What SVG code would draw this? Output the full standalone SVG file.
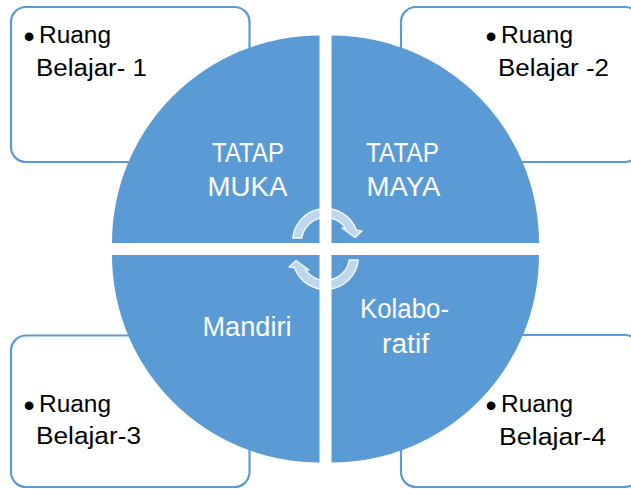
<svg xmlns="http://www.w3.org/2000/svg" width="631" height="489" viewBox="0 0 631 489">
<style>
.box{fill:#ffffff;stroke:#5b9bd5;stroke-width:2.2}
.quad{fill:#5b9bd5;stroke:none}
.lbl{font-family:"Liberation Sans",Arial,sans-serif;font-size:23px;fill:#000000}
.bul{font-size:32px}
.ql{font-family:"Liberation Sans",Arial,sans-serif;font-size:27px;fill:#ffffff}
.arr{fill:#ffffff;fill-opacity:0.6;stroke:#ffffff;stroke-opacity:0.9;stroke-width:1.4;stroke-linejoin:round}
</style>
<rect width="631" height="489" fill="#ffffff"/>
<g id="box1">
<rect class="box" x="11" y="7" width="238.5" height="155" rx="15"/>
<text class="lbl"><tspan class="bul" x="23.5" y="46.5">•</tspan><tspan x="39" y="43" textLength="72" lengthAdjust="spacingAndGlyphs">Ruang</tspan><tspan x="36" y="76" textLength="111" lengthAdjust="spacingAndGlyphs">Belajar- 1</tspan></text>
</g>
<g id="box2">
<rect class="box" x="401" y="7" width="239" height="155" rx="15"/>
<text class="lbl"><tspan class="bul" x="485.5" y="46.5">•</tspan><tspan x="501" y="43" textLength="72" lengthAdjust="spacingAndGlyphs">Ruang</tspan><tspan x="498" y="76" textLength="111" lengthAdjust="spacingAndGlyphs">Belajar -2</tspan></text>
</g>
<g id="box3">
<rect class="box" x="11" y="335.5" width="238.5" height="151.5" rx="15"/>
<text class="lbl"><tspan class="bul" x="23.5" y="415.5">•</tspan><tspan x="39" y="412" textLength="72" lengthAdjust="spacingAndGlyphs">Ruang</tspan><tspan x="36" y="444" textLength="105" lengthAdjust="spacingAndGlyphs">Belajar-3</tspan></text>
</g>
<g id="box4">
<rect class="box" x="401" y="335" width="239" height="152" rx="15"/>
<text class="lbl"><tspan class="bul" x="485.5" y="415.5">•</tspan><tspan x="501" y="412" textLength="72" lengthAdjust="spacingAndGlyphs">Ruang</tspan><tspan x="499" y="445" textLength="107" lengthAdjust="spacingAndGlyphs">Belajar-4</tspan></text>
</g>
<g id="q1">
<path class="quad" d="M319.5 243 L112 243 A207.5 207.5 0 0 1 319.5 35.5 Z"/>
<text class="ql"><tspan x="212" y="162" textLength="72" lengthAdjust="spacingAndGlyphs">TATAP</tspan><tspan x="207.5" y="196" textLength="80" lengthAdjust="spacingAndGlyphs">MUKA</tspan></text>
</g>
<g id="q2">
<path class="quad" d="M331.5 243 L331.5 35.5 A207.5 207.5 0 0 1 539 243 Z"/>
<text class="ql"><tspan x="366" y="162" textLength="73" lengthAdjust="spacingAndGlyphs">TATAP</tspan><tspan x="366.5" y="196" textLength="74" lengthAdjust="spacingAndGlyphs">MAYA</tspan></text>
</g>
<g id="q3">
<path class="quad" d="M319.5 255 L319.5 462.5 A207.5 207.5 0 0 1 112 255 Z"/>
<text class="ql"><tspan x="202.5" y="336" textLength="89" lengthAdjust="spacingAndGlyphs">Mandiri</tspan></text>
</g>
<g id="q4">
<path class="quad" d="M331.5 255 L539 255 A207.5 207.5 0 0 1 331.5 462.5 Z"/>
<text class="ql"><tspan x="360" y="318" textLength="89" lengthAdjust="spacingAndGlyphs">Kolabo-</tspan><tspan x="382" y="353" textLength="47" lengthAdjust="spacingAndGlyphs">ratif</tspan></text>
</g>
<g id="connectors">
<path id="arrowTop" class="arr" d="M292.7 238 A33 33 0 0 1 356.5 230.2 L362 231 L355 237.5 L342 228 L345.7 228.6 A24 24 0 0 0 301.8 238 Z"/>
<path id="arrowBottom" class="arr" transform="rotate(180 325.5 249)" d="M292.7 238 A33 33 0 0 1 356.5 230.2 L362 231 L355 237.5 L342 228 L345.7 228.6 A24 24 0 0 0 301.8 238 Z"/>
</g>
</svg>
